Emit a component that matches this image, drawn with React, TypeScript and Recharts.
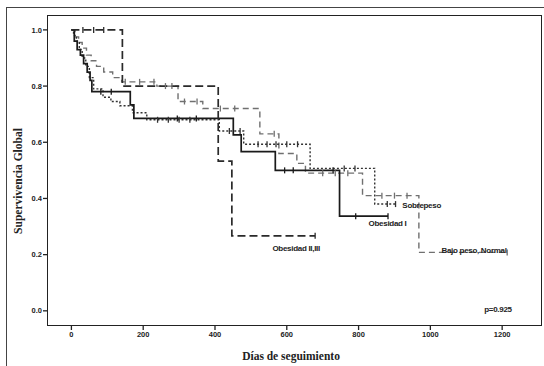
import React from "react";
import { ComposedChart, Line, XAxis, YAxis, ReferenceDot } from "recharts";

// Obesidad II,III
const obes23Times = [0, 142, 409, 447];
const obes23Surv = [1, 0.8, 0.533, 0.267];
const obes23Censor = [32, 62, 90, 679];

// Obesidad I
const obes1Times = [0, 8, 16, 25, 34, 44, 52, 57, 164, 174, 451, 473, 568, 747];
const obes1Surv = [1, 0.96, 0.93, 0.91, 0.88, 0.85, 0.82, 0.78, 0.733, 0.685, 0.626, 0.567, 0.5, 0.337];
const obes1Censor = [82, 111, 295, 348, 594, 618, 729, 792, 882];

// Sobrepeso
const sobreTimes = [0, 6, 14, 22, 30, 40, 50, 62, 88, 110, 135, 170, 210, 412, 480, 665, 845];
const sobreSurv = [1, 0.98, 0.96, 0.93, 0.9, 0.87, 0.83, 0.79, 0.76, 0.745, 0.73, 0.705, 0.68, 0.64, 0.593, 0.507, 0.38];
const sobreCensor = [240, 270, 300, 330, 440, 470, 520, 545, 570, 600, 630, 760, 790, 880, 903];

// Bajo peso, Normal
const bajoTimes = [0, 10, 20, 30, 42, 55, 70, 90, 115, 140, 238, 297, 366, 525, 578, 628, 652, 811, 968];
const bajoSurv = [1, 0.975, 0.955, 0.935, 0.91, 0.89, 0.87, 0.85, 0.83, 0.815, 0.8, 0.745, 0.72, 0.63, 0.56, 0.525, 0.49, 0.41, 0.208];
const bajoCensor = [150, 190, 230, 262, 280, 315, 350, 415, 455, 565, 700, 735, 770, 865, 900, 935, 1214];

const xTicks = [0, 200, 400, 600, 800, 1000, 1200];
const yTicks = [0, 0.2, 0.4, 0.6, 0.8, 1.0];

const labelNames = ["Sobrepeso", "Obesidad I", "Obesidad II,III", "Bajo peso, Normal", "p=0.925"];
const labelDays = [922, 828, 560, 1031, 1150];
const labelValues = [0.376, 0.313, 0.222, 0.216, 0.008];

interface Pt {
  t: number;
  s: number;
  c: boolean;
}

const buildSeries = (times: number[], surv: number[], censors: number[]): Pt[] => {
  const pts: Pt[] = times.map((t, i) => ({ t, s: surv[i], c: false }));
  censors.forEach((ct) => {
    let idx = 0;
    times.forEach((t, i) => {
      if (t <= ct) idx = i;
    });
    pts.push({ t: ct, s: surv[idx], c: true });
  });
  return pts.sort((a, b) => a.t - b.t);
};

const obes23 = buildSeries(obes23Times, obes23Surv, obes23Censor);
const obes1 = buildSeries(obes1Times, obes1Surv, obes1Censor);
const sobre = buildSeries(sobreTimes, sobreSurv, sobreCensor);
const bajo = buildSeries(bajoTimes, bajoSurv, bajoCensor);

const censorDot = (color: string) => (props: any) => {
  const { cx, cy, payload, index } = props;
  if (!payload || !payload.c) return <g key={`n-${index}`} />;
  return (
    <line
      key={`c-${index}`}
      x1={cx}
      x2={cx}
      y1={cy - 3}
      y2={cy + 3}
      stroke={color}
      strokeWidth={1.3}
    />
  );
};

const tickStyle = {
  fontFamily: "Arial, 'Liberation Sans', sans-serif",
  fontSize: 7.5,
  fontWeight: 700,
  fill: "#222",
};

export default function App() {
  return (
    <div style={{ position: "absolute", left: 0, top: 0, width: 544, height: 366, overflow: "hidden", background: "#fff" }}>
      <div
        style={{
          position: "absolute",
          left: 6,
          top: 7,
          width: 600,
          height: 400,
          border: "1px solid #444",
        }}
      />
      <ComposedChart
        width={544}
        height={366}
        margin={{ top: 15, right: 2, bottom: 10, left: 7 }}
        style={{ position: "absolute", left: 0, top: 0 }}
      >
        <XAxis
          type="number"
          dataKey="t"
          domain={[-68, 1311]}
          ticks={xTicks}
          allowDataOverflow
          height={30}
          axisLine={false}
          tickSize={4}
          tickMargin={2}
          tickLine={{ stroke: "#222", strokeWidth: 1.3 }}
          tick={tickStyle}
        />
        <YAxis
          type="number"
          dataKey="s"
          domain={[-0.054, 1.053]}
          ticks={yTicks}
          allowDataOverflow
          width={40}
          axisLine={false}
          tickSize={4}
          tickMargin={1}
          tickLine={{ stroke: "#222", strokeWidth: 1.3 }}
          tick={tickStyle}
          tickFormatter={(v: number) => v.toFixed(1)}
        />
        <Line
          data={bajo}
          dataKey="s"
          type="stepAfter"
          stroke="#707070"
          strokeWidth={1.4}
          strokeDasharray="6 4"
          dot={censorDot("#707070")}
          activeDot={false}
          isAnimationActive={false}
        />
        <Line
          data={sobre}
          dataKey="s"
          type="stepAfter"
          stroke="#333"
          strokeWidth={1.4}
          strokeDasharray="2 2"
          dot={censorDot("#333")}
          activeDot={false}
          isAnimationActive={false}
        />
        <Line
          data={obes1}
          dataKey="s"
          type="stepAfter"
          stroke="#1a1a1a"
          strokeWidth={1.7}
          dot={censorDot("#1a1a1a")}
          activeDot={false}
          isAnimationActive={false}
        />
        <Line
          data={obes23}
          dataKey="s"
          type="stepAfter"
          stroke="#2a2a2a"
          strokeWidth={1.7}
          strokeDasharray="8 4"
          dot={censorDot("#2a2a2a")}
          activeDot={false}
          isAnimationActive={false}
        />
        {labelNames.map((name, i) => (
          <ReferenceDot
            key={name}
            x={labelDays[i]}
            y={labelValues[i]}
            ifOverflow="visible"
            shape={(p: any) => (
              <text
                x={p.cx}
                y={p.cy}
                dy={3}
                fontFamily="Arial, 'Liberation Sans', sans-serif"
                fontSize={8}
                fontWeight={700}
                fill="#222"
                letterSpacing={-0.3}
              >
                {name}
              </text>
            )}
          />
        ))}
      </ComposedChart>
      <div
        style={{
          position: "absolute",
          left: 47,
          top: 15,
          width: 495,
          height: 311,
          boxSizing: "border-box",
          border: "1.5px solid #222",
          pointerEvents: "none",
        }}
      />
      <div
        style={{
          position: "absolute",
          left: 18,
          top: 181,
          transform: "translate(-50%, -50%) rotate(-90deg)",
          whiteSpace: "nowrap",
          fontFamily: "'Liberation Serif', 'Times New Roman', serif",
          fontWeight: 700,
          fontSize: 11.5,
          color: "#222",
        }}
      >
        Supervivencia Global
      </div>
      <div
        style={{
          position: "absolute",
          left: 291,
          top: 356,
          transform: "translate(-50%, -50%)",
          whiteSpace: "nowrap",
          fontFamily: "'Liberation Serif', 'Times New Roman', serif",
          fontWeight: 700,
          fontSize: 11.5,
          color: "#222",
        }}
      >
        Días de seguimiento
      </div>
    </div>
  );
}
